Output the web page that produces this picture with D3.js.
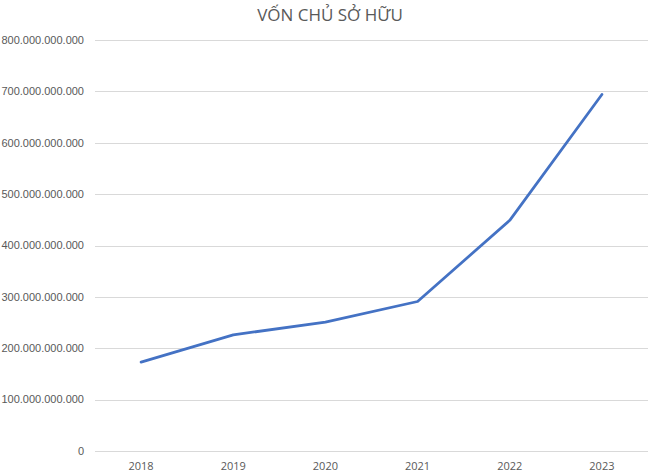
<!DOCTYPE html>
<html>
<head>
<meta charset="utf-8">
<script src="https://cdn.jsdelivr.net/npm/d3@7"></script>
<style>
  body { margin: 0; background: #fff; }
</style>
</head>
<body>
<div id="chart"></div>
<script>
// data
var years = ["2018", "2019", "2020", "2021", "2022", "2023"];
var equity = [173e9, 226e9, 251e9, 291e9, 449e9, 694e9];
var yTicks = [0, 100e9, 200e9, 300e9, 400e9, 500e9, 600e9, 700e9, 800e9];
var chartTitle = "VỐN CHỦ SỞ HỮU";

var w = 658, h = 476;
var margin = {top: 40, right: 10, bottom: 25, left: 95};

var svg = d3.select("#chart").append("svg")
  .attr("width", w)
  .attr("height", h);

// scales
var x = d3.scaleBand()
  .domain(years)
  .range([margin.left, w - margin.right]);

var y = d3.scaleLinear()
  .domain([0, 800e9])
  .range([h - margin.bottom, margin.top]);

// format with dots as thousand separator
var fmt = function(v) { return d3.format(",")(v).replace(/,/g, "."); };

// gridlines
svg.append("g")
  .selectAll("line")
  .data(yTicks)
  .enter().append("line")
  .attr("x1", margin.left)
  .attr("x2", w - margin.right)
  .attr("y1", function(d) { return Math.round(y(d)) + 0.5; })
  .attr("y2", function(d) { return Math.round(y(d)) + 0.5; })
  .attr("stroke", "#d9d9d9")
  .attr("stroke-width", 1);

// y labels
svg.append("g")
  .selectAll("text")
  .data(yTicks)
  .enter().append("text")
  .attr("x", 84)
  .attr("y", function(d) { return y(d); })
  .attr("dy", "0.35em")
  .attr("text-anchor", "end")
  .style("font", "11px 'Liberation Sans', Arial, sans-serif")
  .attr("fill", "#595959")
  .text(fmt);

// x labels
svg.append("g")
  .selectAll("text")
  .data(years)
  .enter().append("text")
  .attr("x", function(d) { return x(d) + x.bandwidth() / 2; })
  .attr("y", h - margin.bottom + 15)
  .attr("dy", "0.35em")
  .attr("text-anchor", "middle")
  .style("font", "11px 'Open Sans', sans-serif")
  .attr("fill", "#595959")
  .text(function(d) { return d; });

// line
var line = d3.line()
  .x(function(d, i) { return x(years[i]) + x.bandwidth() / 2; })
  .y(function(d) { return y(d); });

svg.append("path")
  .datum(equity)
  .attr("d", line)
  .attr("fill", "none")
  .attr("stroke", "#4472c4")
  .attr("stroke-width", 2.75)
  .attr("stroke-linejoin", "round")
  .attr("stroke-linecap", "round");

// title
svg.append("text")
  .attr("x", 330)
  .attr("y", 15)
  .attr("dy", "0.35em")
  .attr("text-anchor", "middle")
  .style("font", "17px 'Open Sans', sans-serif")
  .attr("fill", "#595959")
  .text(chartTitle);
</script>
</body>
</html>
